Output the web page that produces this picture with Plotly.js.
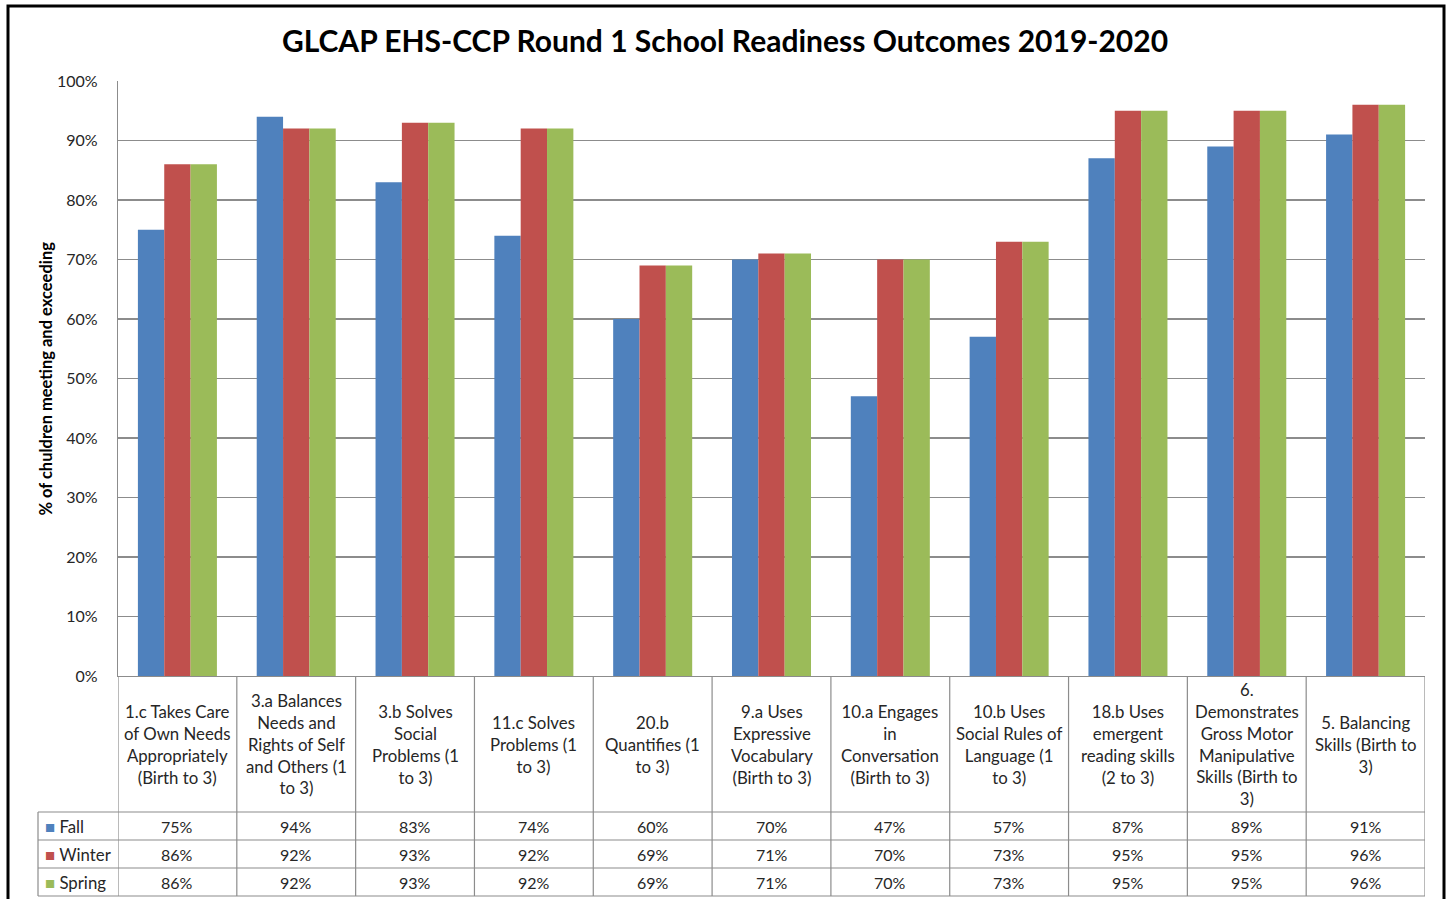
<!DOCTYPE html>
<html>
<head>
<meta charset="utf-8">
<script src="https://cdn.plot.ly/plotly-3.0.1.min.js"></script>
<style>html,body{margin:0;padding:0;background:#fff}#chart{width:1450px;height:899px}</style>
</head>
<body>
<div id="chart"></div>
<script>
const categories = [
  "1.c Takes Care\nof Own Needs\nAppropriately\n(Birth to 3)",
  "3.a Balances\nNeeds and\nRights of Self\nand Others (1\nto 3)",
  "3.b Solves\nSocial\nProblems (1\nto 3)",
  "11.c Solves\nProblems (1\nto 3)",
  "20.b\nQuantifies (1\nto 3)",
  "9.a Uses\nExpressive\nVocabulary\n(Birth to 3)",
  "10.a Engages\nin\nConversation\n(Birth to 3)",
  "10.b Uses\nSocial Rules of\nLanguage (1\nto 3)",
  "18.b Uses\nemergent\nreading skills\n(2 to 3)",
  "6.\nDemonstrates\nGross Motor\nManipulative\nSkills (Birth to\n3)",
  "5. Balancing\nSkills (Birth to\n3)"
];
const seriesNames = ["Fall", "Winter", "Spring"];
const fall   = [75, 94, 83, 74, 60, 70, 47, 57, 87, 89, 91];
const winter = [86, 92, 93, 92, 69, 71, 70, 73, 95, 95, 96];
const spring = [86, 92, 93, 92, 69, 71, 70, 73, 95, 95, 96];
const yTicks = [0, 10, 20, 30, 40, 50, 60, 70, 80, 90, 100];

const colors = ["#4F81BD", "#C0504D", "#9BBB59"];
const seriesValues = [fall, winter, spring];

// layout geometry (pixels)
const W = 1450, H = 899, ML = 118, MR = 25, MT = 81, MB = 223;
const plotW = W - ML - MR, plotH = H - MT - MB;
const py = p => (H - MB - p) / plotH;   // pixel y -> paper y
const px = p => (p - ML) / plotW;       // pixel x -> paper x

const FONT = "Lato, 'Open Sans', sans-serif";
const TXT = "#262626";
const GRID = "#8c8c8c";

const xIdx = categories.map((_, i) => i);
const traces = seriesValues.map((vals, s) => ({
  type: "bar",
  name: seriesNames[s],
  x: xIdx,
  y: vals,
  marker: {color: colors[s], line: {width: 0}},
  hoverinfo: "y+name"
}));

// table rows (pixel y)
const headTop = 676, headBot = 812, rowH = 28;
const rowTops = [headBot, headBot + rowH, headBot + 2 * rowH];
const tableBot = headBot + 3 * rowH;
const legendLeft = 38;

const shapes = [];
const annotations = [];

// outer frame
shapes.push({type: "rect", xref: "paper", yref: "paper",
  x0: px(8), x1: px(1444), y0: py(6), y1: py(910),
  line: {color: "#000", width: 3}, layer: "above"});

// vertical table lines at category boundaries
for (let i = 0; i <= categories.length; i++) {
  shapes.push({type: "line", xref: "x", yref: "paper",
    x0: i - 0.5, x1: i - 0.5, y0: py(headTop), y1: py(tableBot),
    line: {color: GRID, width: 1.2}});
}
// legend column left line
shapes.push({type: "line", xref: "paper", yref: "paper",
  x0: px(legendLeft), x1: px(legendLeft), y0: py(headBot), y1: py(tableBot),
  line: {color: GRID, width: 1.2}});
// horizontal row lines
[headBot, headBot + rowH, headBot + 2 * rowH, tableBot].forEach(r => {
  shapes.push({type: "line", xref: "paper", yref: "paper",
    x0: px(legendLeft), x1: 1, y0: py(r), y1: py(r),
    line: {color: GRID, width: 1.2}});
});

// header category labels
categories.forEach((c, i) => {
  annotations.push({xref: "x", yref: "paper", x: i, y: py((headTop + headBot) / 2),
    text: c.split("\n").join("<br>"), showarrow: false, align: "center",
    xanchor: "center", yanchor: "middle",
    font: {family: FONT, size: 16.8, color: TXT}});
});
// values
seriesValues.forEach((vals, s) => {
  const yc = py(rowTops[s] + rowH / 2);
  vals.forEach((v, i) => {
    annotations.push({xref: "x", yref: "paper", x: i, y: yc,
      text: v + "%", showarrow: false, xanchor: "center", yanchor: "middle",
      font: {family: FONT, size: 16, color: TXT}});
  });
  annotations.push({xref: "paper", yref: "paper", x: px(43), y: yc,
    text: '<span style="color:' + colors[s] + '">■</span> ' + seriesNames[s],
    showarrow: false, xanchor: "left", yanchor: "middle",
    font: {family: FONT, size: 16.8, color: TXT}});
});
// y axis title
annotations.push({xref: "paper", yref: "paper", x: px(45), y: 0.5,
  text: "<b>% of chuldren meeting and exceeding</b>", textangle: -90,
  showarrow: false, xanchor: "center", yanchor: "middle",
  font: {family: FONT, size: 16.5, color: "#000"}});

const layout = {
  width: W, height: H,
  margin: {l: ML, r: MR, t: MT, b: MB, pad: 0},
  paper_bgcolor: "#fff", plot_bgcolor: "#fff",
  title: {text: "<b>GLCAP EHS-CCP Round 1 School Readiness Outcomes 2019-2020</b>",
    xref: "container", x: 0.5, xanchor: "center",
    yref: "container", y: 1 - 41 / H, yanchor: "middle",
    font: {family: FONT, size: 30, color: "#000"}},
  barmode: "group", bargap: 0.335, bargroupgap: 0,
  showlegend: false,
  xaxis: {range: [-0.5, categories.length - 0.5], showticklabels: false,
    showgrid: false, zeroline: false, showline: true, linecolor: GRID, linewidth: 1.2,
    ticks: "", fixedrange: true},
  yaxis: {range: [0, 100], tickvals: yTicks, ticktext: yTicks.map(v => v + "%"),
    showgrid: true, gridcolor: GRID, gridwidth: 1.2, zeroline: false,
    showline: true, linecolor: GRID, linewidth: 1.2, ticks: "",
    ticklabelstandoff: 16,
    tickfont: {family: FONT, size: 16, color: TXT}, fixedrange: true},
  shapes: shapes,
  annotations: annotations,
  font: {family: FONT}
};

Plotly.newPlot("chart", traces, layout, {displayModeBar: false, staticPlot: true});
</script>
</body>
</html>
